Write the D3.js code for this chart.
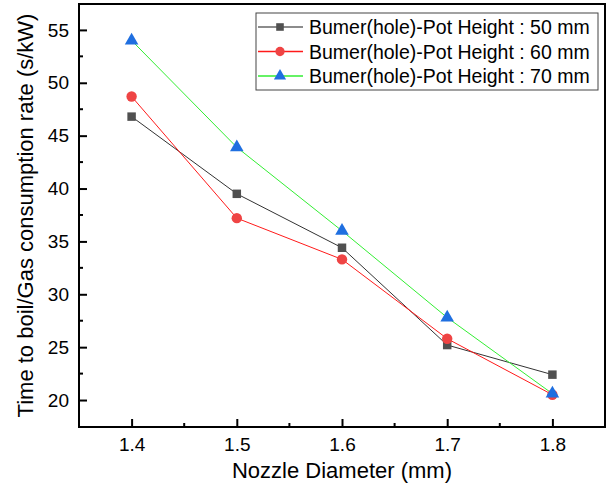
<!DOCTYPE html>
<html lang="en">
<head>
<meta charset="UTF-8">
<title>Nozzle diameter chart</title>
<script src="https://d3js.org/d3.v7.min.js"></script>
<style>
  body { margin: 0; background: #fff; }
  svg { font-family: "Liberation Sans", Arial, sans-serif; }
</style>
</head>
<body>
<svg id="chart" width="609" height="490"></svg>
<script>
// data
var nozzle = [1.4, 1.5, 1.6, 1.7, 1.8];
var h50 = [46.8, 39.5, 34.4, 25.2, 22.4];
var h60 = [48.7, 37.2, 33.3, 25.8, 20.5];
var h70 = [54.0, 43.9, 36.0, 27.8, 20.6];
var seriesNames = ["Bumer(hole)-Pot Height : 50 mm", "Bumer(hole)-Pot Height : 60 mm", "Bumer(hole)-Pot Height : 70 mm"];
var xTicks = [1.4, 1.5, 1.6, 1.7, 1.8];
var yTicks = [20, 25, 30, 35, 40, 45, 50, 55];

var svg = d3.select("#chart");
var pLeft = 79, pRight = 605, pTop = 4, pBottom = 427;

var x = d3.scaleLinear().domain([1.35, 1.85]).range([pLeft, pRight]);
var y = d3.scaleLinear().domain([17.45, 57.45]).range([pBottom, pTop]);

var styles = [
  {line: "#333333", fill: "#505050", shape: d3.symbolSquare, size: 72, legLine: "#666666"},
  {line: "#ff1a1a", fill: "#ef4444", shape: d3.symbolCircle, size: 85, legLine: "#ff1a1a"},
  {line: "#33ee33", fill: "#1f6fe0", shape: d3.symbolTriangle, size: 80, legLine: "#33ee33"}
];
var allSeries = [h50, h60, h70];

// minor ticks
var xMinor = [1.45, 1.55, 1.65, 1.75];
var yMinor = [22.5, 27.5, 32.5, 37.5, 42.5, 47.5, 52.5];

// axes (ticks inward)
var xAxis = svg.append("g").attr("transform", "translate(0," + pBottom + ")")
  .call(d3.axisBottom(x).tickValues(xTicks).tickSizeInner(-8).tickSizeOuter(0).tickPadding(11).tickFormat(d3.format(".1f")));
var yAxis = svg.append("g").attr("transform", "translate(" + pLeft + ",0)")
  .call(d3.axisLeft(y).tickValues(yTicks).tickSizeInner(-8).tickSizeOuter(0).tickPadding(10));
[xAxis, yAxis].forEach(function(g) {
  g.select(".domain").remove();
  g.selectAll(".tick line").attr("stroke", "#000").attr("stroke-width", 2);
  g.selectAll("text").attr("font-size", 19).attr("fill", "#000")
    .attr("font-family", "Liberation Sans, Arial, sans-serif");
});

svg.append("g").selectAll("line").data(xMinor).enter().append("line")
  .attr("x1", d => x(d)).attr("x2", d => x(d))
  .attr("y1", pBottom).attr("y2", pBottom - 4)
  .attr("stroke", "#000").attr("stroke-width", 2);
svg.append("g").selectAll("line").data(yMinor).enter().append("line")
  .attr("y1", d => y(d)).attr("y2", d => y(d))
  .attr("x1", pLeft).attr("x2", pLeft + 4)
  .attr("stroke", "#000").attr("stroke-width", 2);

// frame
svg.append("rect").attr("x", pLeft).attr("y", pTop)
  .attr("width", pRight - pLeft).attr("height", pBottom - pTop)
  .attr("fill", "none").attr("stroke", "#000").attr("stroke-width", 2);

// lines and markers
var line = d3.line().x((d, i) => x(nozzle[i])).y(d => y(d));
allSeries.forEach(function(vals, k) {
  var st = styles[k];
  svg.append("path").datum(vals).attr("d", line)
    .attr("fill", "none").attr("stroke", st.line).attr("stroke-width", 1);
});
allSeries.forEach(function(vals, k) {
  var st = styles[k];
  svg.append("g").selectAll("path").data(vals).enter().append("path")
    .attr("d", d3.symbol().type(st.shape).size(st.size))
    .attr("transform", (d, i) => "translate(" + x(nozzle[i]) + "," + y(d) + ")")
    .attr("fill", st.fill);
});

// legend
var leg = svg.append("g");
leg.append("rect").attr("x", 256).attr("y", 13).attr("width", 342).attr("height", 77)
  .attr("fill", "#fff").attr("stroke", "#444").attr("stroke-width", 1);
seriesNames.forEach(function(name, k) {
  var st = styles[k];
  var ry = 27 + k * 24.5;
  leg.append("line").attr("x1", 258).attr("x2", 303).attr("y1", ry).attr("y2", ry)
    .attr("stroke", st.legLine).attr("stroke-width", 1.5);
  leg.append("path").attr("d", d3.symbol().type(st.shape).size(st.size * 0.8))
    .attr("transform", "translate(280," + ry + ")").attr("fill", st.fill);
  leg.append("text").attr("x", 309).attr("y", ry + 7).attr("font-size", 19.5)
    .attr("fill", "#000").text(name);
});

// axis titles
svg.append("text").attr("x", (pLeft + pRight) / 2).attr("y", 478)
  .attr("text-anchor", "middle").attr("font-size", 22).text("Nozzle Diameter (mm)");
svg.append("text").attr("transform", "translate(33," + (pTop + pBottom) / 2 + ") rotate(-90)")
  .attr("text-anchor", "middle").attr("font-size", 22).text("Time to boil/Gas consumption rate (s/kW)");
</script>
</body>
</html>
